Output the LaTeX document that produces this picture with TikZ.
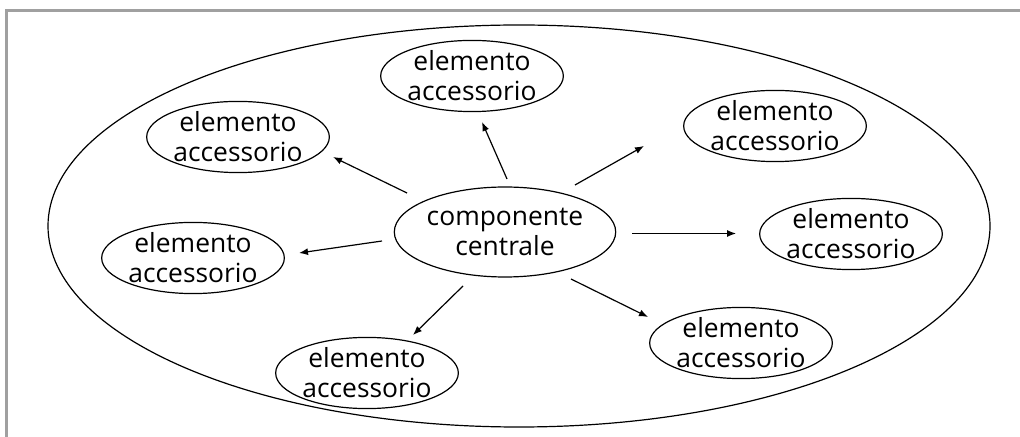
\documentclass[tikz,border=0pt]{standalone}
\usepackage{fontspec}
\setmainfont{Open Sans}
\usetikzlibrary{shapes.geometric,arrows.meta}
\definecolor{framegray}{RGB}{160,160,160}
\begin{document}
\begin{tikzpicture}[x=0.5pt,y=-0.5pt,
  framerule/.style={draw=framegray,line width=1.5pt},
  outerbox/.style={ellipse,draw,line width=0.6pt,inner sep=0pt,minimum width=471pt,minimum height=201pt},
  bubble/.style={ellipse,draw,line width=0.6pt,inner sep=0pt,align=center,
    minimum width=91pt,minimum height=34pt,font=\fontsize{13.2}{15}\selectfont},
  core/.style={bubble,minimum width=110pt,minimum height=45pt},
  link/.style={line width=0.6pt,-{Latex[length=4.5pt,width=3.5pt]}}]
\useasboundingbox (0,0) rectangle (1020,437);

% page frame
\coordinate (fTL) at (6,11);
\coordinate (fTR) at (1020,11);
\coordinate (fBL) at (6,437);
\draw[framerule] (fTR) -- (fTL) -- (fBL);

% enclosing system
\node[outerbox] (sys) at (519,226) {};

% central component
\node[core] (c) at (505,232) {componente\\centrale};

% accessory elements
\node[bubble] (e1) at (472,76)  {elemento\\accessorio};
\node[bubble] (e2) at (238,137) {elemento\\accessorio};
\node[bubble] (e3) at (775,126) {elemento\\accessorio};
\node[bubble] (e4) at (851,234) {elemento\\accessorio};
\node[bubble] (e5) at (741,343) {elemento\\accessorio};
\node[bubble] (e6) at (367,373) {elemento\\accessorio};
\node[bubble] (e7) at (193,258) {elemento\\accessorio};

% arrow end points
\coordinate (a1s) at (507,179); \coordinate (a1e) at (482,122);
\coordinate (a2s) at (407,193); \coordinate (a2e) at (333,157);
\coordinate (a3s) at (575,185); \coordinate (a3e) at (644,146);
\coordinate (a4s) at (632,233.5); \coordinate (a4e) at (736,233.5);
\coordinate (a5s) at (571,279); \coordinate (a5e) at (648,317);
\coordinate (a6s) at (463,286); \coordinate (a6e) at (413,335);
\coordinate (a7s) at (382,241); \coordinate (a7e) at (299,253);

\draw[link] (a1s) -- (a1e);
\draw[link] (a2s) -- (a2e);
\draw[link] (a3s) -- (a3e);
\draw[link] (a4s) -- (a4e);
\draw[link] (a5s) -- (a5e);
\draw[link] (a6s) -- (a6e);
\draw[link] (a7s) -- (a7e);
\end{tikzpicture}
\end{document}
